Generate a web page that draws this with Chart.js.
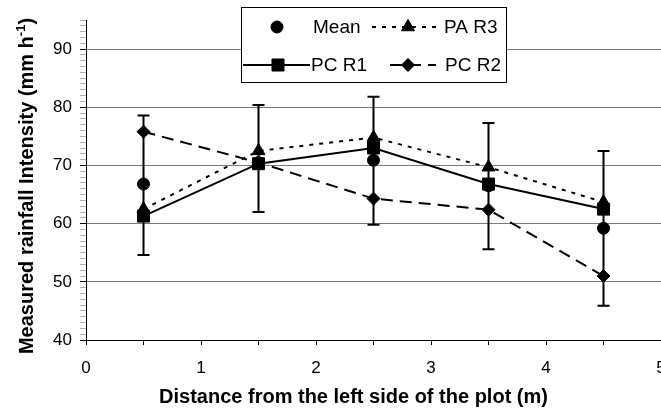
<!DOCTYPE html>
<html>
<head>
<meta charset="utf-8">
<script src="https://cdn.jsdelivr.net/npm/chart.js@4"></script>
<style>
    html, body { margin: 0; padding: 0; background: #fff; overflow: hidden; }
    #wrap { width: 680px; height: 412px; }
</style>
</head>
<body>
<div id="wrap"><canvas id="chart" width="680" height="412"></canvas></div>
<script>
// Distance from the left side of the plot (m)
const distances = [0.5, 1.5, 2.5, 3.5, 4.5];
const seriesNames = ['Mean', 'PA R3', 'PC R1', 'PC R2'];

// Measured rainfall intensity (mm/h)
const meanValues = [66.8, 70.5, 70.9, 66.5, 59.2];
const meanLow = [54.6, 62.0, 59.8, 55.6, 45.9];
const meanHigh = [78.6, 80.4, 81.8, 77.3, 72.5];
const paR3 = [62.5, 72.5, 74.8, 69.7, 63.7];
const pcR1 = [61.3, 70.3, 73.0, 66.8, 62.5];
const pcR2 = [75.8, 70.5, 64.3, 62.4, 51.0];

const xLabels = [0, 1, 2, 3, 4, 5];
const yLabels = [40, 50, 60, 70, 80, 90];

const FONT = "'Liberation Sans', Arial, sans-serif";

function toPoints(values) {
    return values.map((v, i) => ({ x: distances[i], y: v }));
}

// Error bars on the mean, drawn through the chart scales
const errorBars = {
    id: 'errorBars',
    afterDatasetsDraw(chart) {
        const ctx = chart.ctx;
        const xs = chart.scales.x, ys = chart.scales.y;
        ctx.save();
        ctx.strokeStyle = '#000';
        ctx.lineWidth = 2;
        for (let i = 0; i < distances.length; i++) {
            const px = xs.getPixelForValue(distances[i]);
            const top = ys.getPixelForValue(meanHigh[i]);
            const bot = ys.getPixelForValue(meanLow[i]);
            ctx.beginPath();
            ctx.moveTo(px, top); ctx.lineTo(px, bot);
            ctx.moveTo(px - 6, top); ctx.lineTo(px + 6, top);
            ctx.moveTo(px - 6, bot); ctx.lineTo(px + 6, bot);
            ctx.stroke();
        }
        ctx.restore();
    }
};

// Axis titles (the y title needs a superscript)
const axisTitles = {
    id: 'axisTitles',
    afterDraw(chart) {
        const ctx = chart.ctx;
        const area = chart.chartArea;
        ctx.save();
        ctx.fillStyle = '#000';
        ctx.font = 'bold 20px ' + FONT;
        ctx.textBaseline = 'middle';
        ctx.textAlign = 'center';
        ctx.fillText('Distance from the left side of the plot (m)', (area.left + area.right) / 2 - 20, 397);

        const main = 'Measured rainfall Intensity (mm h';
        const sup = '-1';
        const tail = ')';
        ctx.font = 'bold 20px ' + FONT;
        const wMain = ctx.measureText(main).width;
        const wTail = ctx.measureText(tail).width;
        ctx.font = 'bold 13px ' + FONT;
        const wSup = ctx.measureText(sup).width;
        const total = wMain + wSup + wTail;
        ctx.translate(27, (area.top + area.bottom) / 2 + 6);
        ctx.rotate(-Math.PI / 2);
        ctx.textAlign = 'left';
        let x = -total / 2;
        ctx.font = 'bold 20px ' + FONT;
        ctx.fillText(main, x, 0);
        x += wMain;
        ctx.font = 'bold 13px ' + FONT;
        ctx.fillText(sup, x, -6);
        x += wSup;
        ctx.font = 'bold 20px ' + FONT;
        ctx.fillText(tail, x, 0);
        ctx.restore();
    }
};

// Two-by-two boxed legend
const boxLegend = {
    id: 'boxLegend',
    afterDraw(chart) {
        const ctx = chart.ctx;
        const bx = 241, by = 7, bw = 265, bh = 75;
        ctx.save();
        ctx.fillStyle = '#fff';
        ctx.fillRect(bx, by, bw, bh);
        ctx.strokeStyle = '#000';
        ctx.lineWidth = 1;
        ctx.strokeRect(bx + 0.5, by + 0.5, bw, bh);

        const entries = [
            { ds: 0, x0: null, x1: null, mx: 277, tx: 313, y: 27 },
            { ds: 1, x0: 372, x1: 440, mx: 408, tx: 444, y: 27 },
            { ds: 2, x0: 243, x1: 310, mx: 278, tx: 311, y: 65 },
            { ds: 3, x0: 390, x1: 436, mx: 408, tx: 445, y: 65 }
        ];
        entries.forEach(e => {
            const ds = chart.data.datasets[e.ds];
            if (e.x0 !== null) {
                ctx.beginPath();
                ctx.setLineDash(ds.borderDash || []);
                ctx.lineWidth = 2;
                ctx.strokeStyle = '#000';
                ctx.moveTo(e.x0, e.y); ctx.lineTo(e.x1, e.y);
                ctx.stroke();
                ctx.setLineDash([]);
            }
            ctx.fillStyle = '#000';
            ctx.strokeStyle = '#000';
            ctx.lineWidth = 1;
            Chart.helpers.drawPoint(ctx, {
                pointStyle: ds.pointStyle, radius: ds.pointRadius, rotation: 0, borderWidth: 1
            }, e.mx, e.y);
            ctx.font = '19px ' + FONT;
            ctx.textAlign = 'left';
            ctx.textBaseline = 'middle';
            ctx.fillText(ds.label, e.tx, e.y + 1);
        });
        ctx.restore();
    }
};

const ctx = document.getElementById('chart').getContext('2d');
new Chart(ctx, {
    type: 'line',
    data: {
        datasets: [
            {
                label: seriesNames[0],
                data: toPoints(meanValues),
                showLine: false,
                pointStyle: 'circle',
                pointRadius: 6,
                backgroundColor: '#000',
                borderColor: '#000',
                pointBorderWidth: 1,
                order: 0
            },
            {
                label: seriesNames[1],
                data: toPoints(paR3),
                pointStyle: 'triangle',
                pointRadius: 7.5,
                borderDash: [4, 6],
                borderWidth: 2,
                backgroundColor: '#000',
                borderColor: '#000',
                pointBorderWidth: 1,
                order: 1
            },
            {
                label: seriesNames[2],
                data: toPoints(pcR1),
                pointStyle: 'rect',
                pointRadius: 8.5,
                borderWidth: 2,
                backgroundColor: '#000',
                borderColor: '#000',
                pointBorderWidth: 1,
                order: 2
            },
            {
                label: seriesNames[3],
                data: toPoints(pcR2),
                pointStyle: 'rectRot',
                pointRadius: 6.5,
                borderDash: [12, 7],
                borderWidth: 2,
                backgroundColor: '#000',
                borderColor: '#000',
                pointBorderWidth: 1,
                order: 3
            }
        ]
    },
    options: {
        responsive: false,
        animation: false,
        devicePixelRatio: 1,
        layout: { padding: { left: 0, top: 20, right: 19, bottom: 0 } },
        plugins: {
            legend: { display: false },
            tooltip: { enabled: false }
        },
        elements: { line: { tension: 0, fill: false } },
        scales: {
            x: {
                type: 'linear',
                min: 0,
                max: 5,
                border: { color: '#000', width: 1 },
                grid: {
                    drawOnChartArea: false,
                    tickLength: 5,
                    tickColor: '#000'
                },
                ticks: {
                    stepSize: 0.5,
                    autoSkip: false,
                    maxRotation: 0,
                    padding: 13,
                    color: '#000',
                    font: { family: FONT, size: 17 },
                    callback: v => xLabels.includes(v) ? String(v) : ''
                },
                afterFit: scale => { scale.height = 72; }
            },
            y: {
                type: 'linear',
                min: 40,
                max: 95,
                border: { color: '#000', width: 1 },
                grid: {
                    tickLength: 6,
                    color: c => (c.tick && yLabels.includes(c.tick.value) && c.tick.value > 40) ? '#7a7a7a' : 'rgba(0,0,0,0)',
                    tickColor: c => (c.tick && yLabels.includes(c.tick.value)) ? '#000' : '#b0b0b0'
                },
                ticks: {
                    stepSize: 1,
                    autoSkip: false,
                    padding: 8,
                    color: '#000',
                    font: { family: FONT, size: 17 },
                    callback: v => yLabels.includes(v) ? String(v) : ''
                },
                afterFit: scale => { scale.width = 86; }
            }
        }
    },
    plugins: [errorBars, axisTitles, boxLegend]
});
</script>
</body>
</html>
